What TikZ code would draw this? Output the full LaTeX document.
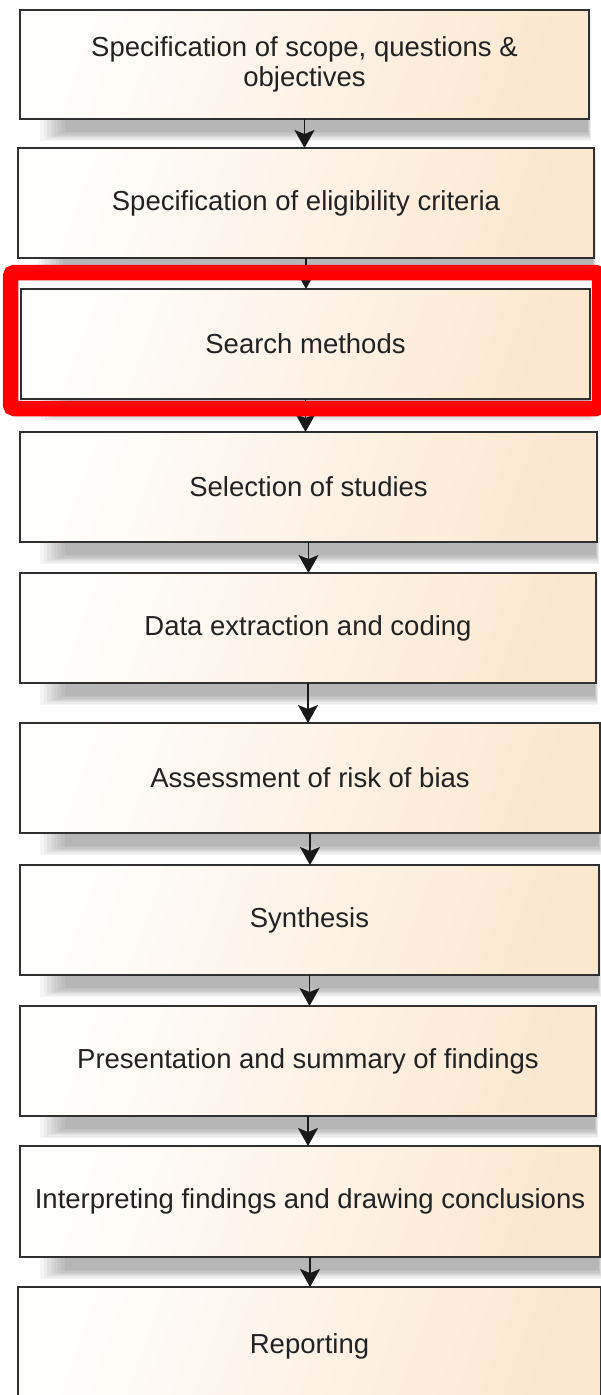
\documentclass[tikz,border=0pt]{standalone}
\usepackage{fontspec}
\setmainfont{Liberation Sans}
\usetikzlibrary{arrows.meta}
\definecolor{boxL}{RGB}{255,254,252}
\definecolor{boxM}{RGB}{254,245,234}
\definecolor{boxR}{RGB}{252,232,208}
\definecolor{edgegray}{RGB}{48,48,48}
\definecolor{txtgray}{RGB}{34,34,34}
\definecolor{hilite}{RGB}{255,0,0}
\tikzset{
  stepbox/.style={draw=edgegray, line width=1.5pt, inner sep=0pt, outer sep=0pt,
    left color=boxL, middle color=boxM, right color=boxR, shading angle=70,
    text=txtgray, align=center, font=\fontsize{27.5}{30}\selectfont},
  arr/.style={draw=black!90, line width=1.6pt, -{Stealth[length=18pt,width=20pt,inset=4pt]}},
  shadowlayer/.style={fill=black, opacity=0.038},
}
\newcommand\mkbox[6]{%
  \foreach \k in {0,...,7}{%
    \fill[shadowlayer] ({#2+20+3.5*\k},{-(#3+5)}) rectangle ({#4+2-0.5*\k},{-(#5+22-1.3*\k)});
  }%
  \node[stepbox, minimum width={(#4-#2)*1pt}, minimum height={(#5-#3)*1pt}] (#1) at ({(#2+#4)/2},{-(#3+#5)/2}) {#6};
}
\begin{document}
\begin{tikzpicture}[x=1pt,y=1pt]
\useasboundingbox (0,0) rectangle (601,-1395);
\fill[white] (0,0) rectangle (601,-1395);
\mkbox{b1}{20}{10}{589}{119}{Specification of scope, questions \&\\objectives}
\mkbox{b2}{18}{148}{594}{258}{Specification of eligibility criteria}
\mkbox{b3}{21}{289}{590}{399}{Search methods}
\mkbox{b4}{20}{432}{597}{542}{Selection of studies}
\mkbox{b5}{20}{573}{596}{683}{Data extraction and coding}
\mkbox{b6}{20}{723}{600}{833}{Assessment of risk of bias}
\mkbox{b7}{20}{865}{599}{975}{Synthesis}
\mkbox{b8}{20}{1006}{596}{1116}{Presentation and summary of findings}
\mkbox{b9}{20}{1146}{600}{1257}{Interpreting findings and drawing conclusions}
\mkbox{b10}{18}{1287}{601}{1405}{Reporting}
\draw[arr] (b1.south) -- (b1.south |- b2.north);
\draw[arr] (b2.south) -- (b2.south |- b3.north);
\draw[arr] (b3.south) -- (b3.south |- b4.north);
\draw[arr] (b4.south) -- (b4.south |- b5.north);
\draw[arr] (b5.south) -- (b5.south |- b6.north);
\draw[arr] (b6.south) -- (b6.south |- b7.north);
\draw[arr] (b7.south) -- (b7.south |- b8.north);
\draw[arr] (b8.south) -- (b8.south |- b9.north);
\draw[arr] (b9.south) -- (b9.south |- b10.north);
\draw[hilite, line width=15.5pt, rounded corners=4pt] (10.5,-272.5) rectangle (599.5,-408.5);
\end{tikzpicture}
\end{document}
